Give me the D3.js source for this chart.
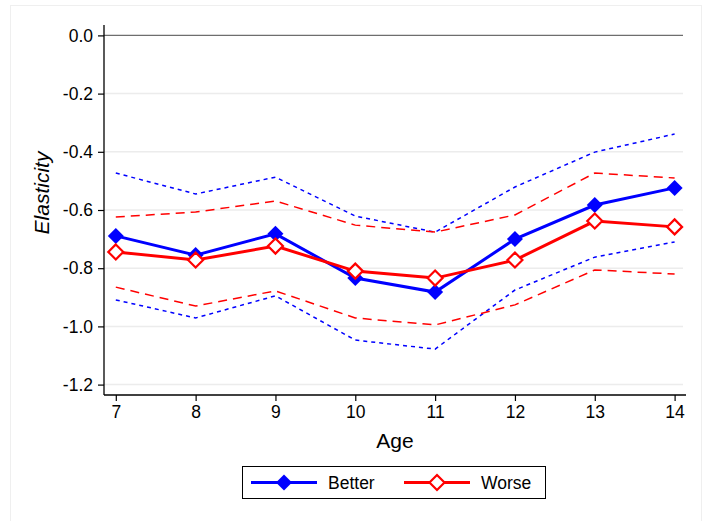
<!DOCTYPE html>
<html>
<head>
<meta charset="utf-8">
<script src="https://cdn.jsdelivr.net/npm/d3@7"></script>
<style>
  html, body { margin: 0; padding: 0; background: #fff; }
  svg { display: block; font-family: Arial, "Liberation Sans", Helvetica, sans-serif; }
</style>
</head>
<body>
<svg id="chart" width="704" height="521"></svg>
<script>
// Age groups on the x axis
const ages = [7, 8, 9, 10, 11, 12, 13, 14];

// Point estimates of the elasticity
const better = [-0.689, -0.755, -0.682, -0.834, -0.882, -0.700, -0.583, -0.524];
const worse  = [-0.744, -0.772, -0.724, -0.810, -0.834, -0.772, -0.638, -0.658];

// Confidence bounds
const betterUpper = [-0.473, -0.545, -0.487, -0.621, -0.676, -0.521, -0.401, -0.339];
const betterLower = [-0.909, -0.971, -0.895, -1.047, -1.078, -0.875, -0.762, -0.710];
const worseUpper  = [-0.624, -0.607, -0.569, -0.652, -0.676, -0.617, -0.473, -0.490];
const worseLower  = [-0.865, -0.930, -0.878, -0.971, -0.995, -0.926, -0.806, -0.820];

// Axis ticks
const yTicks = [0, -0.2, -0.4, -0.6, -0.8, -1.0, -1.2];
const xTicks = ages;

const seriesNames = ["Better", "Worse"];
const blue = "#0000ff", red = "#ff0000";

const svg = d3.select("#chart");

// Outer frame of the graph region
svg.append("rect")
  .attr("x", 10.5).attr("y", 5.5)
  .attr("width", 691).attr("height", 520)
  .attr("fill", "none").attr("stroke", "#efefef").attr("stroke-width", 1);

const plot = { left: 104, right: 686, top: 25, bottom: 395 };

const x = d3.scaleLinear().domain([7, 14]).range([115.8, 674.6]);
const y = d3.scaleLinear().domain([0, -1.2]).range([35.4, 384.6]);

// Gridlines
svg.append("g").selectAll("line")
  .data(yTicks)
  .join("line")
  .attr("x1", plot.left).attr("x2", 683)
  .attr("y1", d => y(d)).attr("y2", d => y(d))
  .attr("stroke", d => d === 0 ? "#6e6e6e" : "#ececec")
  .attr("stroke-width", d => d === 0 ? 1.3 : 1.5);

// Y axis
const yAxis = svg.append("g")
  .attr("transform", `translate(${plot.left},0)`)
  .call(d3.axisLeft(y).tickValues(yTicks).tickFormat(d3.format(".1f")).tickSize(6).tickPadding(5));
yAxis.select(".domain").attr("d", `M0,${plot.top}V${plot.bottom}`).attr("stroke", "#000").attr("stroke-width", 1.3);
yAxis.selectAll(".tick line").attr("stroke", "#000").attr("stroke-width", 1.2);
yAxis.selectAll(".tick text")
  .text(d => d3.format(".1f")(d).replace("\u2212", "-"))
  .attr("font-size", 17.5).attr("fill", "#000").attr("font-family", "Arial, 'Liberation Sans', sans-serif");

// X axis
const xAxis = svg.append("g")
  .attr("transform", `translate(0,${plot.bottom})`)
  .call(d3.axisBottom(x).tickValues(xTicks).tickFormat(d3.format("d")).tickSize(6).tickPadding(5));
xAxis.select(".domain").attr("d", `M${plot.left},0H${plot.right}`).attr("stroke", "#000").attr("stroke-width", 1.3);
xAxis.selectAll(".tick line").attr("stroke", "#000").attr("stroke-width", 1.2);
xAxis.selectAll(".tick text")
  .attr("font-size", 17.5).attr("fill", "#000").attr("font-family", "Arial, 'Liberation Sans', sans-serif");

// Axis titles
svg.append("text")
  .attr("x", (plot.left + plot.right) / 2).attr("y", 448)
  .attr("text-anchor", "middle")
  .attr("font-size", 21).attr("fill", "#000")
  .text("Age");

svg.append("text")
  .attr("transform", "translate(49,193) rotate(-90)")
  .attr("text-anchor", "middle")
  .attr("font-size", 21).attr("font-style", "italic").attr("fill", "#000")
  .text("Elasticity");

const line = d3.line().x((d, i) => x(ages[i])).y(d => y(d));

// Confidence bands
function band(values, color, dash, width) {
  svg.append("path")
    .datum(values)
    .attr("d", line)
    .attr("fill", "none")
    .attr("stroke", color)
    .attr("stroke-width", width)
    .attr("stroke-dasharray", dash);
}
band(betterUpper, blue, "4,4", 1.5);
band(betterLower, blue, "4,4", 1.5);
band(worseUpper, red, "9,6", 1.5);
band(worseLower, red, "9,6", 1.5);

// Diamond marker path
const diamond = r => `M0,${-r}L${r},0L0,${r}L${-r},0Z`;

// Better series (solid blue, filled diamonds)
svg.append("path").datum(better).attr("d", line)
  .attr("fill", "none").attr("stroke", blue).attr("stroke-width", 3);
svg.append("g").selectAll("path")
  .data(better)
  .join("path")
  .attr("transform", (d, i) => `translate(${x(ages[i])},${y(d)})`)
  .attr("d", diamond(8))
  .attr("fill", blue);

// Worse series (solid red, hollow diamonds)
svg.append("path").datum(worse).attr("d", line)
  .attr("fill", "none").attr("stroke", red).attr("stroke-width", 3);
svg.append("g").selectAll("path")
  .data(worse)
  .join("path")
  .attr("transform", (d, i) => `translate(${x(ages[i])},${y(d)})`)
  .attr("d", diamond(7.5))
  .attr("fill", "#fff")
  .attr("stroke", red)
  .attr("stroke-width", 2.2);

// Legend
const legend = svg.append("g");
legend.append("rect")
  .attr("x", 242.5).attr("y", 466.5).attr("width", 303).attr("height", 32)
  .attr("fill", "#fff").attr("stroke", "#000").attr("stroke-width", 1);

const legendItems = [
  { name: seriesNames[0], color: blue, x0: 251, filled: true },
  { name: seriesNames[1], color: red, x0: 404, filled: false }
];
const ly = 482.5;
legendItems.forEach(it => {
  legend.append("line")
    .attr("x1", it.x0).attr("x2", it.x0 + 66)
    .attr("y1", ly).attr("y2", ly)
    .attr("stroke", it.color).attr("stroke-width", 3);
  legend.append("path")
    .attr("transform", `translate(${it.x0 + 33},${ly})`)
    .attr("d", diamond(it.filled ? 8 : 7.5))
    .attr("fill", it.filled ? it.color : "#fff")
    .attr("stroke", it.filled ? "none" : it.color)
    .attr("stroke-width", 2.2);
  legend.append("text")
    .attr("x", it.x0 + 77).attr("y", ly + 6.5)
    .attr("font-size", 17.5).attr("fill", "#000")
    .text(it.name);
});
</script>
</body>
</html>
